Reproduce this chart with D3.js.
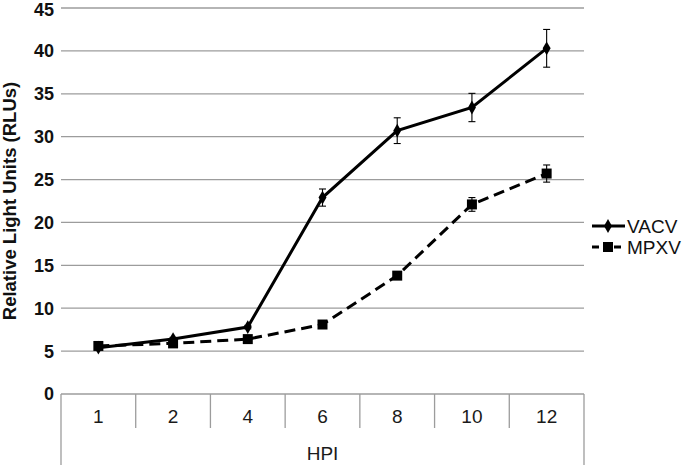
<!DOCTYPE html>
<html>
<head>
<meta charset="utf-8">
<script src="https://cdn.jsdelivr.net/npm/d3@7"></script>
<style>
  body { margin: 0; background: #fff; }
  text { font-family: "Liberation Sans", Arial, sans-serif; }
</style>
</head>
<body>
<div id="chart"></div>
<script>
// hours post infection
const hpi = ["1", "2", "4", "6", "8", "10", "12"];
const vacv = [5.4, 6.4, 7.8, 22.9, 30.7, 33.4, 40.3];
const vacvErr = [0.1, 0.2, 0.2, 1.0, 1.5, 1.65, 2.2];
const mpxv = [5.6, 5.9, 6.4, 8.1, 13.8, 22.1, 25.7];
const mpxvErr = [0.1, 0.1, 0.1, 0.2, 0.3, 0.8, 1.0];
const yTicks = [0, 5, 10, 15, 20, 25, 30, 35, 40, 45];
const seriesNames = ["VACV", "MPXV"];

var width = 683, height = 465;
var plot = { left: 61, right: 584, top: 8, bottom: 394 };

var svg = d3.select("#chart")
    .append("svg")
    .attr("width", width)
    .attr("height", height);

const x = d3.scaleBand()
    .domain(hpi)
    .range([plot.left, plot.right])
    .padding(0);

const y = d3.scaleLinear()
    .domain([0, 45])
    .range([plot.bottom, plot.top]);

// gridlines
svg.append("g")
    .selectAll("line")
    .data(yTicks)
    .join("line")
    .attr("x1", plot.left)
    .attr("x2", plot.right)
    .attr("y1", d => y(d))
    .attr("y2", d => y(d))
    .attr("stroke", "#9c9c9c")
    .attr("stroke-width", 1.3);

// y tick labels (top one nudged so it stays inside the page)
svg.append("g")
    .selectAll("text")
    .data(yTicks)
    .join("text")
    .attr("x", 54)
    .attr("y", d => y(d))
    .attr("dy", d => d === 45 ? "0.46em" : "0.36em")
    .attr("text-anchor", "end")
    .attr("font-size", 18)
    .attr("font-weight", "bold")
    .attr("fill", "#111")
    .text(d => d);

// y title
svg.append("text")
    .attr("transform", "translate(16," + ((plot.top + plot.bottom) / 2) + ") rotate(-90)")
    .attr("text-anchor", "middle")
    .attr("font-size", 18.5)
    .attr("font-weight", "bold")
    .attr("fill", "#111")
    .text("Relative Light Units (RLUs)");

// category table under the axis
var edges = hpi.map(d => x(d)).concat([plot.right]);
svg.append("g")
    .selectAll("line")
    .data(edges)
    .join("line")
    .attr("x1", d => d)
    .attr("x2", d => d)
    .attr("y1", plot.bottom)
    .attr("y2", (d, i) => (i === 0 || i === edges.length - 1) ? height : 428)
    .attr("stroke", "#9c9c9c")
    .attr("stroke-width", 1.3);

svg.append("g")
    .selectAll("text")
    .data(hpi)
    .join("text")
    .attr("x", d => x(d) + x.bandwidth() / 2)
    .attr("y", 423)
    .attr("text-anchor", "middle")
    .attr("font-size", 19)
    .attr("fill", "#1a1a1a")
    .text(d => d);

svg.append("text")
    .attr("x", (plot.left + plot.right) / 2)
    .attr("y", 460)
    .attr("text-anchor", "middle")
    .attr("font-size", 19)
    .attr("fill", "#1a1a1a")
    .text("HPI");

var cx = d => x(d) + x.bandwidth() / 2;

function drawSeries(values, errs, dash, marker) {
    var pts = hpi.map((h, i) => ({ h: h, v: values[i], e: errs[i] }));

    svg.append("path")
        .datum(pts)
        .attr("fill", "none")
        .attr("stroke", "#000")
        .attr("stroke-width", 3)
        .attr("stroke-dasharray", dash)
        .attr("d", d3.line().x(d => cx(d.h)).y(d => y(d.v)));

    // error bars
    var eb = svg.append("g").selectAll("g").data(pts).join("g")
        .attr("stroke", "#000")
        .attr("stroke-width", 1.1);
    eb.append("line")
        .attr("x1", d => cx(d.h)).attr("x2", d => cx(d.h))
        .attr("y1", d => y(d.v + d.e)).attr("y2", d => y(d.v - d.e));
    eb.append("line")
        .attr("x1", d => cx(d.h) - 3.5).attr("x2", d => cx(d.h) + 3.5)
        .attr("y1", d => y(d.v + d.e)).attr("y2", d => y(d.v + d.e));
    eb.append("line")
        .attr("x1", d => cx(d.h) - 3.5).attr("x2", d => cx(d.h) + 3.5)
        .attr("y1", d => y(d.v - d.e)).attr("y2", d => y(d.v - d.e));

    svg.append("g").selectAll("path").data(pts).join("path")
        .attr("transform", d => "translate(" + cx(d.h) + "," + y(d.v) + ")")
        .attr("d", marker)
        .attr("fill", "#000");
}

var diamond = d3.symbol().type(d3.symbolDiamond).size(55)();
var square = d3.symbol().type(d3.symbolSquare).size(100)();

drawSeries(vacv, vacvErr, null, diamond);
drawSeries(mpxv, mpxvErr, "11,6", square);

// legend
var legend = svg.append("g").selectAll("g")
    .data(seriesNames)
    .join("g")
    .attr("transform", (d, i) => "translate(592," + (226 + i * 21) + ")");

legend.append("line")
    .attr("x1", 0).attr("x2", 33)
    .attr("stroke", "#000")
    .attr("stroke-width", 3)
    .attr("stroke-dasharray", (d, i) => i === 1 ? "7,4" : null);

legend.append("path")
    .attr("transform", "translate(16,0)")
    .attr("d", (d, i) => i === 0 ? diamond : square)
    .attr("fill", "#000");

legend.append("text")
    .attr("x", 35)
    .attr("dy", "0.36em")
    .attr("font-size", 19)
    .attr("fill", "#111")
    .text(d => d);
</script>
</body>
</html>
